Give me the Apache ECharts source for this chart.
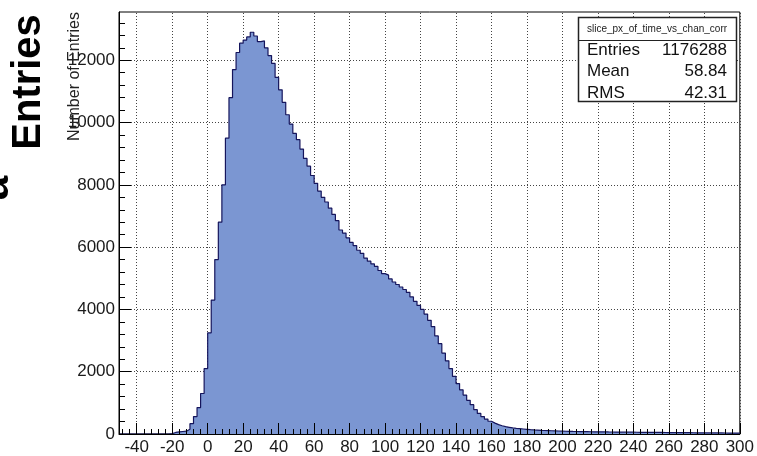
<!DOCTYPE html>
<html>
<head>
<meta charset="utf-8">
<script src="https://cdn.jsdelivr.net/npm/echarts@6/dist/echarts.min.js"></script>
<style>
  html, body { margin: 0; padding: 0; background: #fff; }
  #chart { width: 757px; height: 456px; }
</style>
</head>
<body>
<div id="chart"></div>
<script>
// ---- data ----
const binStart = -50;
const binWidth = 2;
const counts = [
  0, 0, 0, 0, 0, 0, 0, 0, 0, 0, 0, 0, 0, 0,           // -50 .. -24
  10, 50, 70, 80, 90, 150, 330, 560, 850, 1300, 2100,   // -22 .. -2
  3250, 4300, 5600, 6800, 8000, 9500, 10800, 11700, 12250, 12550, // 0 .. 18
  12650, 12750, 12900, 12780, 12600, 12620, 12400, 12150, 11900, 11450, // 20 .. 38
  11050, 10650, 10250, 9950, 9650, 9450, 9150, 8850, 8600, 8300, // 40 .. 58
  8050, 7800, 7600, 7450, 7250, 7050, 6850, 6550, 6450, 6300,   // 60 .. 78
  6150, 6050, 5900, 5800, 5650, 5550, 5460, 5380, 5250, 5150,   // 80 .. 98
  5100, 4980, 4880, 4800, 4720, 4640, 4550, 4400, 4260, 4130,   // 100 .. 118
  4000, 3850, 3650, 3450, 3150, 2900, 2600, 2350, 2100, 1850,   // 120 .. 138
  1620, 1420, 1250, 1080, 940, 780, 660, 560, 480, 410,         // 140 .. 158
  350, 300, 265, 235, 215, 195, 180, 170, 160, 150,             // 160 .. 178
  140, 132, 125, 118, 112, 108, 104, 100, 96, 92,               // 180 .. 198
  88, 85, 82, 80, 78, 76, 74, 72, 71, 70,                       // 200 .. 218
  69, 68, 66, 65, 63, 62, 60, 59, 58, 57,                       // 220 .. 238
  56, 55, 54, 53, 52, 51, 50, 49, 48, 47,                       // 240 .. 258
  46, 45, 44, 43, 42, 41, 40, 39, 38, 37,                       // 260 .. 278
  36, 35, 35, 34, 33, 32, 31, 30, 30, 29                        // 280 .. 298
];
const xTickLabels = [-40, -20, 0, 20, 40, 60, 80, 100, 120, 140, 160, 180, 200, 220, 240, 260, 280, 300];
const yTickLabels = [0, 2000, 4000, 6000, 8000, 10000, 12000];
const xMin = -50, xMax = 300, yMax = 13550;
const statsTitle = 'slice_px_of_time_vs_chan_corr';
const statsNames = ['Entries', 'Mean', 'RMS'];
const statsValues = ['1176288', '58.84', '42.31'];
const yTitle = 'Number of Entries';
const bigTitle = 'Entries';

// ---- build ----
const histData = counts.map((c, i) => [binStart + i * binWidth, c]);
histData.push([binStart + counts.length * binWidth, counts[counts.length - 1]]);

const xMinor = [];
for (let v = -48; v <= xMax; v += 4) xMinor.push(v);
const yMinor = [];
for (let v = 400; v <= yMax; v += 400) yMinor.push(v);

const FONT = '"Liberation Sans", Arial, sans-serif';
const chart = echarts.init(document.getElementById('chart'), null, { renderer: 'canvas' });

const gridLines = xTickLabels.map(v => ({ xAxis: v }))
  .concat(yTickLabels.filter(v => v > 0).map(v => ({ yAxis: v })));

const plain = v => String(v);

const option = {
  animation: false,
  backgroundColor: '#fff',
  grid: { left: 119, right: 13, top: 12, bottom: 19, show: true, borderColor: '#000', borderWidth: 1, backgroundColor: 'transparent' },
  xAxis: [
    {
      type: 'value', min: xMin, max: xMax, z: 5, position: 'bottom',
      splitLine: { show: false },
      axisLine: { show: true, onZero: false, lineStyle: { color: '#000', width: 1 } },
      axisTick: { show: true, inside: true, length: 11, customValues: xTickLabels, lineStyle: { color: '#000', width: 1 } },
      axisLabel: { show: true, customValues: xTickLabels, formatter: plain, margin: 5, fontSize: 17, color: '#1a1a1a', fontFamily: FONT }
    },
    {
      type: 'value', min: xMin, max: xMax, z: 5, position: 'bottom',
      splitLine: { show: false },
      axisLine: { show: false, onZero: false },
      axisTick: { show: true, inside: true, length: 5, customValues: xMinor, lineStyle: { color: '#000', width: 1 } },
      axisLabel: { show: false }
    }
  ],
  yAxis: [
    {
      type: 'value', min: 0, max: yMax, z: 5, position: 'left',
      splitLine: { show: false },
      axisLine: { show: true, onZero: false, lineStyle: { color: '#000', width: 1 } },
      axisTick: { show: true, inside: true, length: 12, customValues: yTickLabels, lineStyle: { color: '#000', width: 1 } },
      axisLabel: { show: true, customValues: yTickLabels, formatter: plain, margin: 4, fontSize: 17, color: '#1a1a1a', fontFamily: FONT }
    },
    {
      type: 'value', min: 0, max: yMax, z: 5, position: 'left',
      splitLine: { show: false },
      axisLine: { show: false, onZero: false },
      axisTick: { show: true, inside: true, length: 6, customValues: yMinor, lineStyle: { color: '#000', width: 1 } },
      axisLabel: { show: false }
    }
  ],
  series: [
    {
      type: 'line',
      xAxisIndex: 0, yAxisIndex: 0,
      step: 'end',
      symbol: 'none',
      z: 3,
      data: histData,
      lineStyle: { color: '#15155c', width: 1.2 },
      areaStyle: { color: '#7b96d2', opacity: 1 },
      markLine: {
        silent: true, z: 1,
        symbol: ['none', 'none'],
        label: { show: false },
        lineStyle: { color: '#444', type: [1, 2], width: 1 },
        emphasis: { disabled: true },
        data: gridLines
      }
    }
  ],
  graphic: [
    {
      type: 'text', x: 29, y: 82, rotation: Math.PI / 2, z: 10,
      style: { text: bigTitle, fontSize: 40, fontWeight: 'bold', fontFamily: FONT, fill: '#000', align: 'center', verticalAlign: 'middle' }
    },
    {
      type: 'text', x: -4, y: 188, rotation: Math.PI / 2, z: 10,
      style: { text: 'a', fontSize: 44, fontWeight: 'bold', fontFamily: FONT, fill: '#000', align: 'center', verticalAlign: 'middle' }
    },
    {
      type: 'text', x: 75, y: 12, rotation: Math.PI / 2, z: 10,
      style: { text: yTitle, fontSize: 16, fontFamily: FONT, fill: '#222', align: 'right', verticalAlign: 'middle' }
    },
    {
      type: 'rect', z: 20,
      shape: { x: 578.5, y: 17.5, width: 158, height: 84 },
      style: { fill: '#fff', stroke: '#222', lineWidth: 1.5 }
    },
    {
      type: 'line', z: 21,
      shape: { x1: 578.5, y1: 40.5, x2: 736.5, y2: 40.5 },
      style: { stroke: '#222', lineWidth: 1.2 }
    },
    {
      type: 'text', x: 657, y: 29, z: 22,
      style: { text: statsTitle, fontSize: 10, fontFamily: FONT, fill: '#222', align: 'center', verticalAlign: 'middle' }
    }
  ].concat(statsNames.map((n, i) => ({
    type: 'text', x: 587, y: 50 + i * 21.5, z: 22,
    style: { text: n, fontSize: 17, fontFamily: FONT, fill: '#111', align: 'left', verticalAlign: 'middle' }
  }))).concat(statsValues.map((v, i) => ({
    type: 'text', x: 727, y: 50 + i * 21.5, z: 22,
    style: { text: v, fontSize: 17, fontFamily: FONT, fill: '#111', align: 'right', verticalAlign: 'middle' }
  })))
};
chart.setOption(option);
</script>
</body>
</html>
